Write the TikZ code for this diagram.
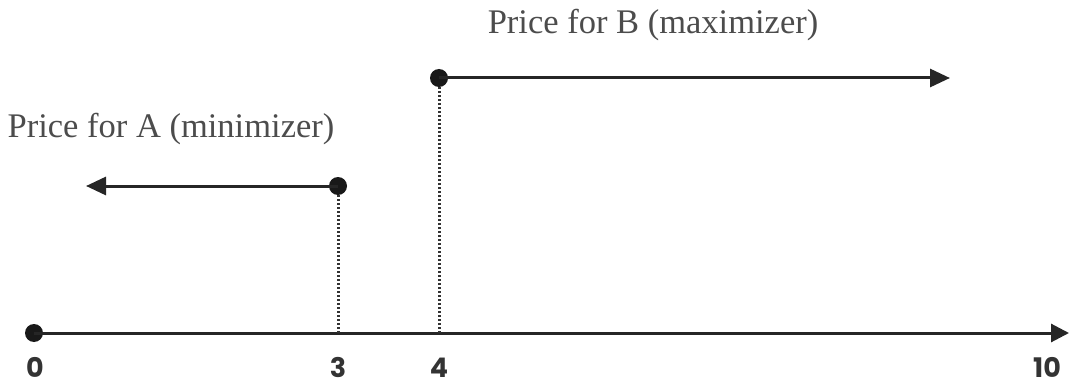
\documentclass[tikz,border=0pt]{standalone}
\usepackage{fontspec}
\setmainfont{Liberation Serif}
\newfontfamily\numfont{Poppins}[UprightFont=* Bold]
\usetikzlibrary{arrows.meta}
\tikzset{
  arr/.style={line width=3pt, color=black!85, -{Triangle[length=20pt,width=18pt]}},
  axisline/.style={line width=3pt, color=black!85, -{Triangle[length=18pt,width=18pt]}},
  guide/.style={line width=3pt, color=black!80, dash pattern=on 2pt off 2pt},
  pt/.style={circle, fill=black!90, inner sep=0pt, minimum size=18pt},
  lbl/.style={font=\fontsize{34.5}{38}\selectfont, text=black!70, inner sep=0pt},
  num/.style={font=\numfont\fontsize{27}{30}\selectfont, text=black!80, inner sep=0pt, anchor=base}
}
\begin{document}
\begin{tikzpicture}[x=1pt,y=-1pt]
\useasboundingbox (0,0) rectangle (1071,385);
% axis
\node[pt] (o) at (34,333) {};
\coordinate (end) at (1069,333);
\coordinate (a3) at (338,333);
\coordinate (a4) at (439,333);
\draw[axisline] (o.center) -- (end);
% A
\node[pt] (pa) at (338,186) {};
\coordinate (ta) at (86,186);
\draw[arr] (pa.center) -- (ta);
\draw[guide] (pa.south) -- (a3);
% B
\node[pt] (pb) at (439,78) {};
\coordinate (tb) at (950,78);
\draw[arr] (pb.center) -- (tb);
\draw[guide] (pb.south) -- (a4);
% texts
\node[lbl] (la) at (171,129) {Price for A (minimizer)};
\node[lbl] (lb) at (653,25) {Price for B (maximizer)};
\node[num] (n0) at (35,377) {0};
\node[num] (n3) at (338,377) {3};
\node[num] (n4) at (439,377) {4};
\node[num] (n10) at (1047,377) {10};
\end{tikzpicture}
\end{document}
